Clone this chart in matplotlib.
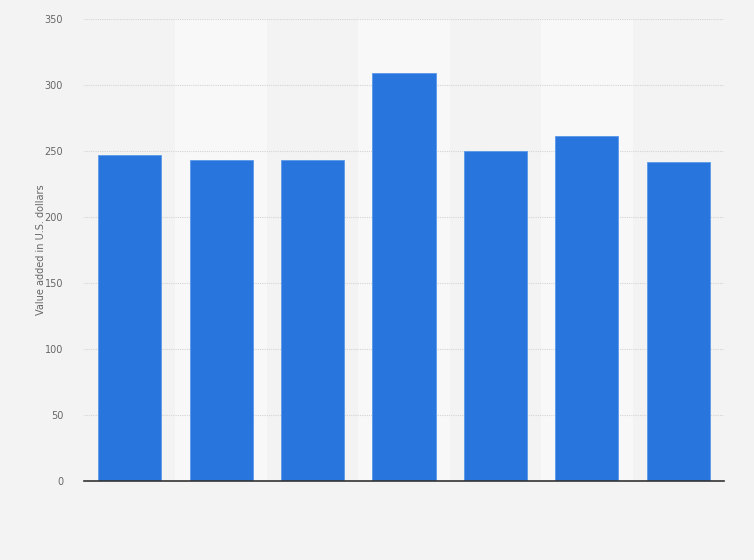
import numpy as np
import matplotlib.pyplot as plt

# values (no category labels shown)
categories = ["1", "2", "3", "4", "5", "6", "7"]
values = [247, 243, 243, 309, 250, 261, 242]
y_ticks = [0, 50, 100, 150, 200, 250, 300, 350]

fig = plt.figure(figsize=(7.54, 5.6), dpi=100)
fig.patch.set_facecolor("#f3f3f3")
ax = fig.add_axes([84 / 754, 79 / 560, 640 / 754, 462 / 560])
ax.set_facecolor("#f3f3f3")

x = np.arange(len(categories))
# alternating lighter bands behind every second column
for i in x:
    if i % 2 == 1:
        ax.axvspan(i - 0.5, i + 0.5, color="#f8f8f8", zorder=0, lw=0)

ax.bar(x, values, width=0.69, color="#2876dd", edgecolor="#5b98e8", linewidth=0.6, zorder=3)

ax.set_xlim(-0.5, len(categories) - 0.5)
ax.set_ylim(0, 350)
ax.set_yticks(y_ticks)
ax.set_yticklabels([str(t) for t in y_ticks], fontsize=7, color="#666666")
ax.set_xticks([])
ax.yaxis.grid(True, linestyle=(0, (1, 1)), color="#d4d4d4", linewidth=0.8, zorder=1)
ax.tick_params(axis="y", length=0, pad=15)

for s in ["top", "right", "left"]:
    ax.spines[s].set_visible(False)
ax.spines["bottom"].set_color("#333333")
ax.spines["bottom"].set_linewidth(1.2)
ax.spines["bottom"].set_zorder(4)

ax.set_ylabel("Value added in U.S. dollars", fontsize=7, color="#666666")
ax.yaxis.set_label_coords(-0.060, 0.5)

fig.savefig("out.png", dpi=100, facecolor=fig.get_facecolor())
